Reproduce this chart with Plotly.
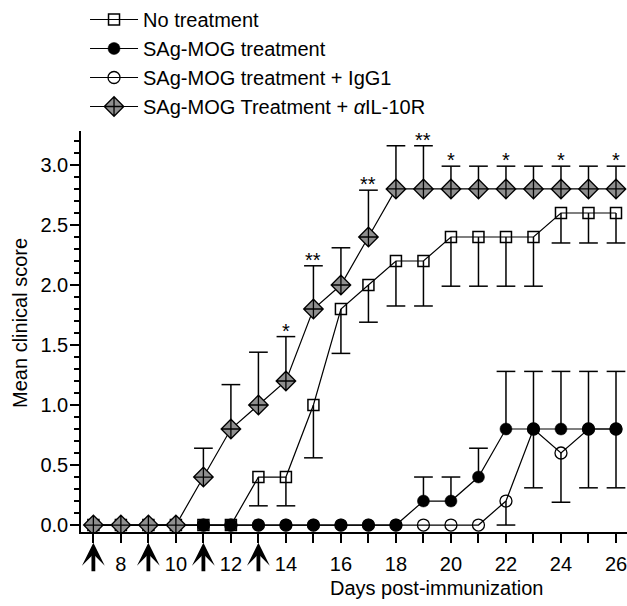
import plotly.graph_objects as go

# ---------------- data ----------------
days = list(range(7, 27))

no_treatment = [0, 0, 0, 0, 0, 0, 0.4, 0.4, 1.0, 1.8, 2.0, 2.2, 2.2, 2.4, 2.4, 2.4, 2.4, 2.6, 2.6, 2.6]
no_treatment_err_low = [0, 0, 0, 0, 0, 0, 0.24, 0.24, 0.44, 0.37, 0.31, 0.375, 0.375, 0.41, 0.41, 0.41, 0.41, 0.25, 0.25, 0.25]

sag_mog = [0, 0, 0, 0, 0, 0, 0, 0, 0, 0, 0, 0, 0.2, 0.2, 0.4, 0.8, 0.8, 0.8, 0.8, 0.8]
sag_mog_err_high = [0, 0, 0, 0, 0, 0, 0, 0, 0, 0, 0, 0, 0.2, 0.2, 0.24, 0.48, 0.48, 0.48, 0.48, 0.48]

sag_mog_igg1 = [0, 0, 0, 0, 0, 0, 0, 0, 0, 0, 0, 0, 0, 0, 0, 0.2, 0.8, 0.6, 0.8, 0.8]
sag_mog_igg1_err_low = [0, 0, 0, 0, 0, 0, 0, 0, 0, 0, 0, 0, 0, 0, 0, 0.2, 0.49, 0.41, 0.49, 0.49]

sag_mog_il10r = [0, 0, 0, 0, 0.4, 0.8, 1.0, 1.2, 1.8, 2.0, 2.4, 2.8, 2.8, 2.8, 2.8, 2.8, 2.8, 2.8, 2.8, 2.8]
sag_mog_il10r_err_high = [0, 0, 0, 0, 0.24, 0.37, 0.44, 0.37, 0.36, 0.31, 0.39, 0.36, 0.36, 0.19, 0.19, 0.19, 0.19, 0.19, 0.19, 0.19]

sig_days = [14, 15, 17, 19, 20, 22, 24, 26]
sig_labels = ["*", "**", "**", "**", "*", "*", "*", "*"]

injection_days = [7, 9, 11, 13]

x_tick_vals = list(range(7, 27))
x_tick_text = [str(d) if d % 2 == 0 else "" for d in x_tick_vals]
y_tick_vals = [0, 0.5, 1.0, 1.5, 2.0, 2.5, 3.0]
y_tick_text = ["0.0", "0.5", "1.0", "1.5", "2.0", "2.5", "3.0"]

# ---------------- style ----------------
FONT = "Liberation Sans, Arial, sans-serif"
CAP = 0.34  # half width of error-bar caps, in days
GRAY = "#8f8f8f"


def err_segments(x, y, err, direction):
    xs, ys = [], []
    for xi, yi, e in zip(x, y, err):
        if not e:
            continue
        tip = yi + direction * e
        xs += [xi, xi, None, xi - CAP, xi + CAP, None]
        ys += [yi, tip, None, tip, tip, None]
    return xs, ys


fig = go.Figure()

# error bars (beneath markers)
for vals, errs, d in [
    (no_treatment, no_treatment_err_low, -1),
    (sag_mog_igg1, sag_mog_igg1_err_low, -1),
    (sag_mog, sag_mog_err_high, 1),
    (sag_mog_il10r, sag_mog_il10r_err_high, 1),
]:
    ex, ey = err_segments(days, vals, errs, d)
    fig.add_trace(go.Scatter(x=ex, y=ey, mode="lines", line=dict(color="black", width=1.5),
                             showlegend=False, hoverinfo="skip"))

fig.add_trace(go.Scatter(
    x=days, y=no_treatment, name="No treatment", mode="lines+markers", legendrank=1,
    line=dict(color="black", width=1.2),
    marker=dict(symbol="square-open", size=11, color="black", line=dict(width=1.5, color="black")),
))
fig.add_trace(go.Scatter(
    x=days, y=sag_mog_igg1, name="SAg-MOG treatment + IgG1", mode="lines+markers", legendrank=3,
    line=dict(color="black", width=1.2),
    marker=dict(symbol="circle-open", size=12, color="black", line=dict(width=1.3, color="black")),
))
fig.add_trace(go.Scatter(
    x=days, y=sag_mog, name="SAg-MOG treatment", mode="lines+markers", legendrank=2,
    line=dict(color="black", width=1.2),
    marker=dict(symbol="circle", size=12, color="black", line=dict(width=0.5, color="black")),
))
fig.add_trace(go.Scatter(
    x=days, y=sag_mog_il10r, name="SAg-MOG Treatment + <i>α</i>IL-10R", mode="lines+markers", legendrank=4,
    line=dict(color="black", width=1.2),
    marker=dict(symbol="diamond-cross", size=15, color=GRAY, line=dict(width=1.3, color="black")),
))

# significance marks
for d, lab in zip(sig_days, sig_labels):
    i = days.index(d)
    fig.add_annotation(x=d, y=sag_mog_il10r[i] + sag_mog_il10r_err_high[i], text=lab,
                       showarrow=False, yanchor="bottom", yshift=-7,
                       font=dict(family=FONT, size=20, color="black"))

# injection arrows
for d in injection_days:
    fig.add_annotation(x=d, y=-0.027, xref="x", yref="paper", text="", showarrow=True,
                       ax=0, ay=30, arrowhead=3, arrowsize=1.0, arrowwidth=3.8,
                       arrowcolor="black", standoff=0)

# axis titles
fig.add_annotation(text="Days post-immunization", xref="paper", yref="paper",
                   x=0.652, y=-0.14, showarrow=False, xanchor="center", yanchor="middle",
                   font=dict(family=FONT, size=20, color="black"))
fig.add_annotation(text="Mean clinical score", xref="paper", yref="paper",
                   x=-0.112, y=0.521, showarrow=False, xanchor="center", yanchor="middle",
                   textangle=-90, font=dict(family=FONT, size=20, color="black"))

fig.update_layout(
    width=627, height=606,
    margin=dict(l=81, r=0, t=131, b=74, pad=0, autoexpand=False),
    paper_bgcolor="white", plot_bgcolor="white",
    font=dict(family=FONT, size=20, color="black"),
    showlegend=True,
    legend=dict(xref="container", yref="container", x=0.1356, y=1.005,
                xanchor="left", yanchor="top", bgcolor="rgba(0,0,0,0)",
                font=dict(family=FONT, size=20, color="black"),
                itemwidth=48, tracegroupgap=0),
    xaxis=dict(range=[6.55, 26.4], tickmode="array", tickvals=x_tick_vals, ticktext=x_tick_text,
               ticks="outside", ticklen=9, tickwidth=1.5, tickcolor="black",
               showline=True, linewidth=1.5, linecolor="black", mirror=False,
               showgrid=False, zeroline=False, ticklabelstandoff=4, automargin=False,
               ticklabeloverflow="allow",
               tickfont=dict(family=FONT, size=20, color="black")),
    yaxis=dict(range=[-0.058, 3.283], tickmode="array", tickvals=y_tick_vals, ticktext=y_tick_text,
               ticks="outside", ticklen=9, tickwidth=1.5, tickcolor="black",
               minor=dict(dtick=0.1, tick0=0, ticks="outside", ticklen=5, tickwidth=1.5, tickcolor="black"),
               showline=True, linewidth=1.5, linecolor="black", mirror=False,
               showgrid=False, zeroline=False, ticklabelstandoff=-2, automargin=False,
               tickfont=dict(family=FONT, size=20, color="black")),
)

fig.write_html("out.html", config={"displayModeBar": False},
               post_script="document.body.style.margin='0px';")
